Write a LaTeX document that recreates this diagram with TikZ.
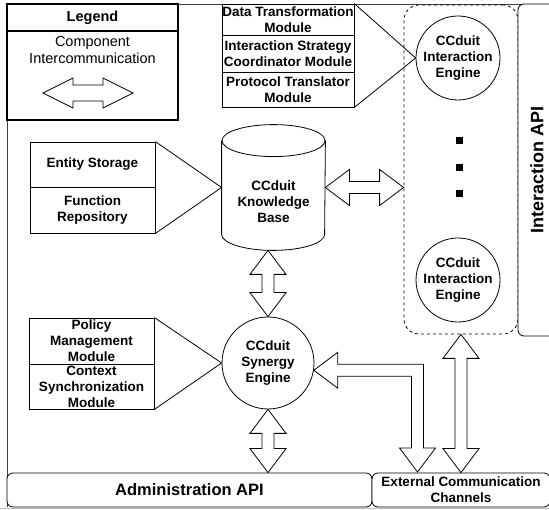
\documentclass[tikz,border=0pt]{standalone}
\usepackage{fontspec}
\setmainfont{Liberation Sans}
\usetikzlibrary{calc}
\newcommand{\modfont}{\fontsize{13.5}{16}\selectfont\bfseries}
\newcommand{\legfont}{\fontsize{14.5}{16.5}\selectfont}
\newcommand{\headlen}{24pt}
\newcommand{\headhalf}{18pt}
\newcommand{\shafthalf}{6pt}
% hollow double arrow, left end -> right end
\newcommand{\hblock}[2]{%
  \draw[blk] let \p1=(#1), \p2=(#2) in
    (\p1) -- (\x1+\headlen,\y1+\headhalf) -- (\x1+\headlen,\y1+\shafthalf)
    -- (\x2-\headlen,\y1+\shafthalf) -- (\x2-\headlen,\y1+\headhalf) -- (\x2,\y1)
    -- (\x2-\headlen,\y1-\headhalf) -- (\x2-\headlen,\y1-\shafthalf)
    -- (\x1+\headlen,\y1-\shafthalf) -- (\x1+\headlen,\y1-\headhalf) -- cycle;}
% hollow double arrow, top end -> bottom end
\newcommand{\vblock}[2]{%
  \draw[blk] let \p1=(#1), \p2=(#2) in
    (\p1) -- (\x1+\headhalf,\y1-\headlen) -- (\x1+\shafthalf,\y1-\headlen)
    -- (\x1+\shafthalf,\y2+\headlen) -- (\x1+\headhalf,\y2+\headlen) -- (\x1,\y2)
    -- (\x1-\headhalf,\y2+\headlen) -- (\x1-\shafthalf,\y2+\headlen)
    -- (\x1-\shafthalf,\y1-\headlen) -- (\x1-\headhalf,\y1-\headlen) -- cycle;}
\tikzset{>=latex}

\begin{document}
\begin{tikzpicture}[x=1pt,y=-1pt,line width=0.8pt,
  module/.style={draw, fill=white, minimum width=132pt, align=center, font=\modfont, inner sep=0pt},
  sidemod/.style={module, minimum width=125pt},
  engine/.style={draw, fill=white, circle, minimum size=84pt, align=center, font=\modfont, inner sep=0pt},
  blk/.style={draw, fill=white},
  apibox/.style={draw, fill=white, rounded corners=6pt, inner sep=0pt}]
	\useasboundingbox (0,0) rectangle (549,510);
	\clip (0,0) rectangle (549,510);
	\draw[black!75] (7,507) -- (7,4) -- (549,4);
	\draw[black!25] (0,508.5) -- (549,508.5);
	% legend
	\node (leghead) [draw, line width=2.4pt, minimum width=171pt, minimum height=27pt, font=\legfont\bfseries] at (92.5,17.5) {Legend};
	\node (legbody) [draw, line width=2.4pt, minimum width=171pt, minimum height=89pt] at (92.5,75.5) {};
	\node (legtext) [font=\legfont, align=center] at (92.5,50) {Component\\Intercommunication};
	\draw (43,93) -- (73,78) -- (73,85) -- (103,85) -- (103,78) -- (133,93) -- (103,108) -- (103,101) -- (73,101) -- (73,108) -- cycle;
	% interaction side
	\node (ibox) [draw, dashed, dash pattern=on 3pt off 3pt, rounded corners=15pt, minimum width=114pt, minimum height=329pt] at (461,169.5) {};
	\node (iapi) [apibox, minimum width=50pt, minimum height=332pt] at (543,170) {};
	\node (iapitext) [rotate=90, font=\fontsize{18}{20}\selectfont\bfseries] at (537,170) {Interaction API};
	\node (ie1) [engine] at (458,58) {CCduit\\Interaction\\Engine};
	\node (ie2) [engine] at (458,280) {CCduit\\Interaction\\Engine};
	\foreach \y in {141,168,194}
		\fill (459,\y) +(-3.5,-3.5) rectangle +(3.5,3.5);
	\node (dtm) [module, minimum height=31pt] at (288,19.5) {Data Transformation\\Module};
	\node (isc) [module, minimum height=37pt] at (288,53.5) {Interaction Strategy\\Coordinator Module};
	\node (ptm) [module, minimum height=35pt] at (288,89.5) {Protocol Translator\\Module};
	\draw (dtm.north east) -- (ie1.west) -- (ptm.south east);
	% knowledge base
	\node (kb) [minimum width=103pt, minimum height=125pt, inner sep=0pt] at (273.5,187.5) {};
	\draw[fill=white] ($(kb.north west)+(0,16)$) -- ($(kb.south west)+(0,-16)$) arc[start angle=180, end angle=360, x radius=51.5pt, y radius=16pt] -- ($(kb.north east)+(0,16)$);
	\draw ($(kb.north)+(0,16)$) ellipse[x radius=51.5pt, y radius=16pt];
	\node (kbtext) [font=\modfont, align=center] at (273.5,201.5) {CCduit\\Knowledge\\Base};
	\node (es) [sidemod, minimum height=45pt] at (92.5,164.5) {Entity Storage};
	\node (fr) [sidemod, minimum height=46pt] at (92.5,210) {Function\\Repository};
	\draw (es.north east) -- (kb.west) -- (fr.south east);
	% synergy engine
	\node (syn) [engine, minimum size=92pt] at (268,363) {CCduit\\Synergy\\Engine};
	\node (pm) [sidemod, minimum height=46pt] at (91.5,341) {Policy\\Management\\Module};
	\node (cs) [sidemod, minimum height=45pt] at (91.5,386.5) {Context\\Synchronization\\Module};
	\draw (pm.north east) -- (syn.west) -- (cs.south east);
	% bottom APIs
	\node (adm) [apibox, minimum width=365pt, minimum height=34pt, font=\fontsize{16.5}{18}\selectfont\bfseries] at (189.5,490) {Administration API};
	\node (ecc) [apibox, minimum width=178pt, minimum height=34pt, font=\modfont, align=center] at (461,490) {External Communication\\Channels};
	\coordinate (elb) at (417.5,472);
	% connectors
	\hblock{kb.east}{kb.east -| ibox.west}
	\vblock{kb.south -| syn.north}{syn.north}
	\vblock{syn.south}{syn.south |- adm.north}
	\vblock{ibox.south}{ibox.south |- ecc.north}
	\draw[blk] let \p1=(syn.-9), \p2=(elb) in
		(\p1) -- (\x1+\headlen,\y1+\headhalf) -- (\x1+\headlen,\y1+\shafthalf)
		-- (\x2+\shafthalf,\y1+\shafthalf) -- (\x2+\shafthalf,\y2+\headlen) -- (\x2+\headhalf,\y2+\headlen)
		-- (\p2) -- (\x2-\headhalf,\y2+\headlen) -- (\x2-\shafthalf,\y2+\headlen)
		-- (\x2-\shafthalf,\y1-\shafthalf) -- (\x1+\headlen,\y1-\shafthalf) -- (\x1+\headlen,\y1-\headhalf) -- cycle;
\end{tikzpicture}
\end{document}
